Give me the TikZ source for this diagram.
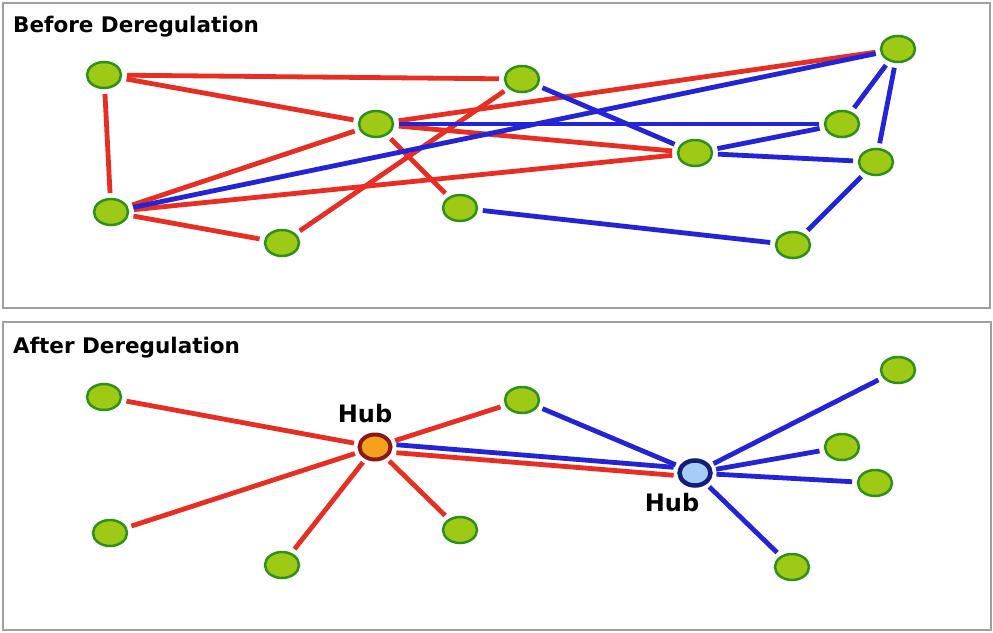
\documentclass[tikz,border=0pt]{standalone}
\usepackage{fontspec}
\setmainfont{DejaVu Sans}
\usetikzlibrary{shapes.geometric}
\definecolor{nodefill}{RGB}{158,202,22}
\definecolor{nodeline}{RGB}{45,145,25}
\definecolor{redline}{RGB}{232,45,35}
\definecolor{blueline}{RGB}{35,35,215}
\definecolor{framegray}{RGB}{160,160,160}
\definecolor{hubfillA}{RGB}{242,160,30}
\definecolor{hublineA}{RGB}{140,25,15}
\definecolor{hubfillB}{RGB}{165,205,245}
\definecolor{hublineB}{RGB}{20,30,120}
\begin{document}
\begin{tikzpicture}[x=1pt,y=-1pt,
  site/.style={ellipse, draw=nodeline, fill=nodefill, line width=2.5pt,
    minimum width=34pt, minimum height=26pt, inner sep=0pt, outer sep=6pt},
  hubA/.style={ellipse, draw=hublineA, fill=hubfillA, line width=4pt,
    minimum width=31pt, minimum height=25pt, inner sep=0pt, outer sep=6pt},
  hubB/.style={ellipse, draw=hublineB, fill=hubfillB, line width=4.5pt,
    minimum width=31pt, minimum height=25pt, inner sep=0pt, outer sep=6pt},
  rl/.style={draw=redline, line width=4.8pt},
  bl/.style={draw=blueline, line width=4.8pt},
  panel/.style={draw=framegray, line width=2pt},
  ptitle/.style={anchor=base west, inner sep=0pt, font=\bfseries\fontsize{21.5}{25}\selectfont},
  hublabel/.style={inner sep=0pt, font=\bfseries\fontsize{24}{28}\selectfont},
]
\useasboundingbox (0,0) rectangle (993,632);
\fill[white] (0,0) rectangle (993,632);
% frames
\draw[panel] (3,3) rectangle (990,308);
\draw[panel] (3,322) rectangle (991,630);
\node[ptitle] (t1) at (13,32) {Before Deregulation};
\node[ptitle] (t2) at (13,353) {After Deregulation};

% ---------- top panel ----------
\node[site] (A) at (104,75) {};
\node[site] (B) at (522,79) {};
\node[site] (C) at (376,124) {};
\node[site] (D) at (111,212) {};
\node[site] (E) at (282,243) {};
\node[site] (F) at (460,208) {};
\node[site] (G) at (695,153) {};
\node[site] (H) at (898,49) {};
\node[site] (I) at (842,124) {};
\node[site] (J) at (876,162) {};
\node[site] (K) at (793,245) {};

\draw[rl] (A) -- (B);
\draw[rl] (A) -- (C);
\draw[rl] (A) -- (D);
\draw[rl] (C) -- (D);
\draw[rl] (D) -- (E);
\draw[rl] (E) -- (B);
\draw[rl] (C) -- (F);
\draw[rl] (D) -- (G);
\draw[rl] (C) -- (G);
\draw[rl] (C) -- (H);
\draw[bl] (D) -- (H);
\draw[bl] (C) -- (I);
\draw[bl] (B) -- (G);
\draw[bl] (G) -- (I);
\draw[bl] (G) -- (J);
\draw[bl] (H) -- (I);
\draw[bl] (H) -- (J);
\draw[bl] (J) -- (K);
\draw[bl] (F) -- (K);

% ---------- bottom panel ----------
\node[site] (a) at (104,397) {};
\node[site] (b) at (522,400) {};
\node[site] (c) at (110,533) {};
\node[site] (d) at (282,565) {};
\node[site] (e) at (460,530) {};
\node[site] (f) at (898,370) {};
\node[site] (g) at (842,447) {};
\node[site] (h) at (875,483) {};
\node[site] (k) at (792,567) {};
\node[hubA] (h1) at (375,447) {};
\node[hubB] (h2) at (695,473) {};
\node[hublabel] (l1) at (365,414) {Hub};
\node[hublabel] (l2) at (672,503) {Hub};

\draw[rl] (a) -- (h1);
\draw[rl] (c) -- (h1);
\draw[rl] (d) -- (h1);
\draw[rl] (e) -- (h1);
\draw[rl] (h1) -- (b);
\draw[bl, transform canvas={yshift=4pt}] (h1) -- (h2);
\draw[rl, transform canvas={yshift=-4pt}] (h1) -- (h2);
\draw[bl] (b) -- (h2);
\draw[bl] (h2) -- (f);
\draw[bl] (h2) -- (g);
\draw[bl] (h2) -- (h);
\draw[bl] (h2) -- (k);
\end{tikzpicture}
\end{document}
